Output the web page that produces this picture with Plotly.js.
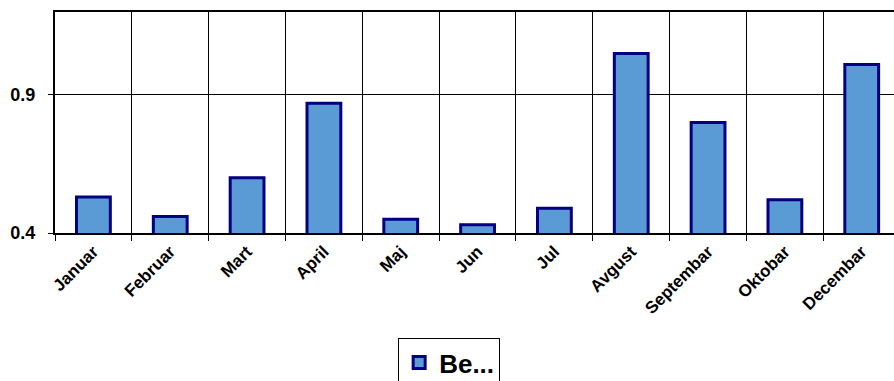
<!DOCTYPE html>
<html>
<head>
<meta charset="utf-8">
<script src="https://cdn.plot.ly/plotly-3.0.1.min.js"></script>
<style>
html,body{margin:0;padding:0;background:#fff;overflow:hidden;}
#chart{width:894px;height:381px;}
</style>
</head>
<body>
<div id="chart"></div>
<script>
var months = ["Januar","Februar","Mart","April","Maj","Jun","Jul","Avgust","Septembar","Oktobar","Decembar"];
var values = [0.53, 0.46, 0.60, 0.87, 0.45, 0.43, 0.49, 1.05, 0.80, 0.52, 1.01];
var seriesName = "Be...";
var yTicks = [0.4, 0.9];
var yTickText = ["0.4", "0.9"];

var trace = {
  type: "bar",
  x: months,
  y: values,
  name: seriesName,
  width: 0.44,
  marker: {color: "#5b9bd5", line: {color: "#000080", width: 3}},
  showlegend: true,
  hoverinfo: "x+y"
};

var layout = {
  width: 894,
  height: 381,
  margin: {l: 55, r: 0, t: 12, b: 148, autoexpand: false},
  paper_bgcolor: "#ffffff",
  plot_bgcolor: "#ffffff",
  font: {family: "Liberation Sans, Arial, sans-serif", color: "#000000"},
  bargap: 0.56,
  xaxis: {
    type: "category",
    range: [-0.5, 10.42],
    tickson: "boundaries",
    ticks: "outside",
    ticklen: 6,
    tickwidth: 1,
    tickcolor: "#000000",
    showgrid: true,
    gridcolor: "#000000",
    gridwidth: 1,
    showline: true,
    linecolor: "#000000",
    linewidth: 2,
    mirror: true,
    tickangle: -45,
    tickfont: {family: "Liberation Sans, Arial, sans-serif", size: 17, color: "#000000", weight: "bold"},
    fixedrange: true
  },
  yaxis: {
    range: [0.4, 1.2],
    tickvals: yTicks,
    ticktext: yTickText,
    ticks: "outside",
    ticklen: 5,
    tickwidth: 1,
    tickcolor: "#000000",
    showgrid: true,
    gridcolor: "#000000",
    gridwidth: 1,
    zeroline: false,
    showline: true,
    linecolor: "#000000",
    linewidth: 2,
    ticklabelstandoff: 9,
    tickfont: {family: "Liberation Sans, Arial, sans-serif", size: 18, color: "#000000", weight: "bold"},
    fixedrange: true
  },
  showlegend: true,
  legend: {
    x: 0.409,
    xanchor: "left",
    y: -0.475,
    yanchor: "top",
    bgcolor: "#ffffff",
    bordercolor: "#000000",
    borderwidth: 1,
    font: {family: "Liberation Sans, Arial, sans-serif", size: 26, color: "#000000", weight: "bold"}
  }
};

Plotly.newPlot("chart", [trace], layout, {displayModeBar: false, staticPlot: true});
</script>
</body>
</html>
